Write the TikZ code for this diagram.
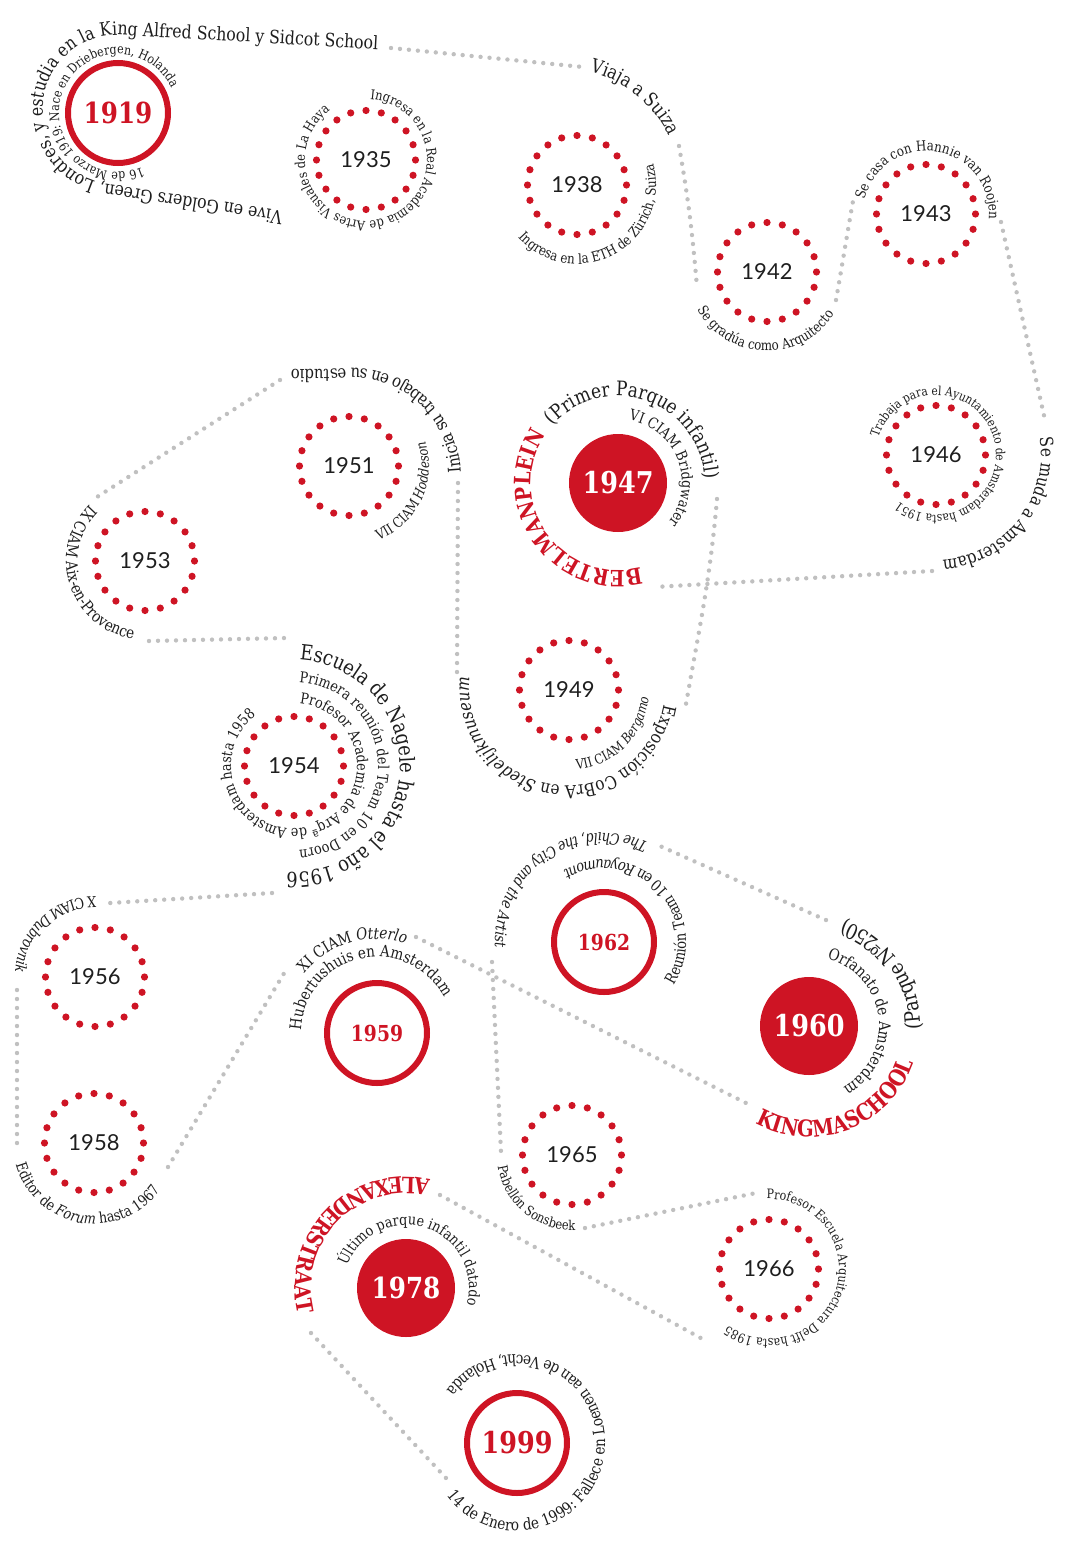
\documentclass[tikz,border=0pt]{standalone}
\usepackage{fontspec}
\setmainfont{DejaVu Serif}[FakeStretch=0.85]
\newfontfamily\yearfont{Lato}
\usetikzlibrary{decorations.text}

\definecolor{vanred}{RGB}{206,20,36}
\definecolor{trailgray}{RGB}{192,192,192}
\definecolor{yeargray}{RGB}{30,30,30}

\newcommand\fs[1]{\fontsize{#1}{#1}\selectfont}
% text on an arc: [deco options]{cx}{cy}{r}{from}{to}{text}
\newcommand\arctext[7][]{%
  \begin{scope}[transform canvas={shift={(#2,-#3)}}]
  \path[decorate,decoration={text along path,text align=center,text color=yeargray,#1,text={#7}}]
    (#5:#4pt) arc[start angle=#5,end angle=#6,radius=#4pt];
  \end{scope}}

\tikzset{
  trail/.style={draw=trailgray,line width=4.4pt,line cap=round,dash pattern=on 0pt off 9pt},
  thinyear/.style={font=\yearfont\fs{22},text=yeargray},
  ringyear/.style={circle,draw=vanred,line width=6pt,minimum size=100pt,inner sep=0pt,text=vanred,font=\bfseries\fs{22}},
  diskyear/.style={circle,fill=vanred,minimum size=98pt,inner sep=0pt,text=white,font=\bfseries\fs{30}}
}

\begin{document}
\begin{tikzpicture}[x=1pt,y=1pt]
	\useasboundingbox (0,0) rectangle (1080,-1545);

	% years
	\node[ringyear,font=\bfseries\fs{29}] (y1919) at (118,-113) {1919};
	\node[thinyear] (y1935) at (366,-160) {1935};
	\node[thinyear] (y1938) at (577,-185) {1938};
	\node[thinyear] (y1942) at (767,-272) {1942};
	\node[thinyear] (y1943) at (926,-214) {1943};
	\node[thinyear] (y1946) at (936,-455) {1946};
	\node[diskyear] (y1947) at (618,-483) {1947};
	\node[thinyear] (y1949) at (569,-690) {1949};
	\node[thinyear] (y1951) at (349,-466) {1951};
	\node[thinyear] (y1953) at (145,-561) {1953};
	\node[thinyear] (y1954) at (294,-766) {1954};
	\node[thinyear] (y1956) at (95,-977) {1956};
	\node[thinyear] (y1958) at (94,-1143) {1958};
	\node[ringyear] (y1959) at (377,-1033) {1959};
	\node[diskyear] (y1960) at (809,-1026) {1960};
	\node[ringyear] (y1962) at (604,-942) {1962};
	\node[thinyear] (y1965) at (572,-1155) {1965};
	\node[thinyear] (y1966) at (769,-1269) {1966};
	\node[diskyear,font=\bfseries\fs{29}] (y1978) at (406,-1288) {1978};
	\node[ringyear,font=\bfseries\fs{30}] (y1999) at (517,-1443) {1999};

	% dotted rings
	\foreach \c in {y1935,y1938,y1942,y1943,y1946,y1949,y1951,y1953,y1954,y1956,y1958,y1965,y1966}
		\foreach \a in {0,18,...,342}
			\fill[vanred] (\c.center) ++(\a:49.5pt) circle[radius=3.6pt];

	% trail ends
	\coordinate (schoolEnd) at (391,-48);
	\coordinate (suizaIn) at (583,-67);
	\coordinate (suizaOut) at (679,-146);
	\coordinate (gradIn) at (697,-287);
	\coordinate (gradOut) at (836,-300);
	\coordinate (casaIn) at (853,-201);
	\coordinate (casaOut) at (1001,-222);
	\coordinate (mudaIn) at (1045,-420);
	\coordinate (mudaOut) at (932,-571);
	\coordinate (bertIn) at (655,-587);
	\coordinate (bertOut) at (717,-499);
	\coordinate (cobraIn) at (686,-704);
	\coordinate (cobraOut) at (457,-672);
	\coordinate (iniciaIn) at (458,-481);
	\coordinate (iniciaOut) at (280,-380);
	\coordinate (aixIn) at (97,-497);
	\coordinate (aixOut) at (149,-641);
	\coordinate (naglIn) at (286,-638);
	\coordinate (naglOut) at (272,-893);
	\coordinate (dubIn) at (110,-903);
	\coordinate (dubOut) at (17,-990);
	\coordinate (forumIn) at (17,-1150);
	\coordinate (forumOut) at (168,-1167);
	\coordinate (otterIn) at (286,-970);
	\coordinate (otterOut) at (416,-937);
	\coordinate (kingIn) at (748,-1104);
	\coordinate (kingOut) at (826,-920);
	\coordinate (childIn) at (660,-846);
	\coordinate (childOut) at (492,-962);
	\coordinate (sonsIn) at (501,-1152);
	\coordinate (sonsOut) at (585,-1228);
	\coordinate (delftIn) at (756,-1193);
	\coordinate (delftOut) at (708,-1342);
	\coordinate (alexIn) at (440,-1195);
	\coordinate (alexOut) at (311,-1333);
	\coordinate (loenIn) at (446,-1478);

	% trail
	\draw[trail] (schoolEnd) -- (suizaIn);
	\draw[trail] (suizaOut) to[out=-80,in=95] (gradIn);
	\draw[trail] (gradOut) to[out=80,in=-100] (casaIn);
	\draw[trail] (casaOut) -- (mudaIn);
	\draw[trail] (mudaOut) -- (bertIn);
	\draw[trail] (bertOut) to[out=-95,in=80] (cobraIn);
	\draw[trail] (cobraOut) -- (iniciaIn);
	\draw[trail] (iniciaOut) -- (aixIn);
	\draw[trail] (aixOut) -- (naglIn);
	\draw[trail] (naglOut) -- (dubIn);
	\draw[trail] (dubOut) -- (forumIn);
	\draw[trail] (forumOut) -- (otterIn);
	\draw[trail] (otterOut) -- (kingIn);
	\draw[trail] (kingOut) -- (childIn);
	\draw[trail] (childOut) -- (sonsIn);
	\draw[trail] (sonsOut) -- (delftIn);
	\draw[trail] (alexIn) -- (delftOut);
	\draw[trail] (alexOut) -- (loenIn);

	% trail texts
	\begin{scope}[transform canvas={shift={(118,-110)}}]
	\path[decorate,decoration={text along path,text align=center,text color=yeargray,
		text={|\fs{18.5}|Vive en Golders Green, Londres, y estudia en la King Alfred School y Sidcot School}}]
		(175,-103) -- (-12,-74) arc[start angle=-99,end angle=-273,radius=75pt] -- (270,60);
	\end{scope}
	\arctext{560}{190}{122}{80}{22}{|\fs{19}|Viaja a Suiza}
	\arctext{767}{272}{79}{200}{336}{|\fs{14}|Se gradúa como Arquitecto}
	\arctext{926}{214}{63}{168}{-6}{|\fs{14}|Se casa con Hannie van Roojen}
	\arctext{936}{455}{105}{15}{-92}{|\fs{18}|Se muda a Amsterdam}
	\arctext[text color=vanred]{618}{483}{87}{283}{148}{|\bfseries\fs{22.5}|BERTELMANPLEIN}
	\arctext{618}{483}{87}{147}{-6}{|\fs{20}|(Primer Parque infantil)}
	\arctext{567}{688}{98}{-3}{-193}{|\fs{18}|Exposición CoBrA en |\fs{18}\itshape|Stedelijkmuseum}
	\begin{scope}[transform canvas={shift={(351,-478)}}]
	\path[decorate,decoration={text along path,text align=center,text color=yeargray,
		text={|\fs{17.5}|Inicia su trabajo en su estudio}}]
		(-5:110pt) arc[start angle=-5,end angle=100,radius=110pt] -- (-75,109);
	\end{scope}
	\arctext{145}{561}{79}{127}{269}{|\fs{16}|IX CIAM Aix-en-Provence}
	\arctext{294}{766}{106}{91}{-98}{|\fs{21}|Escuela de Nagele hasta el año 1956}
	\arctext{95}{977}{80}{80}{186}{|\fs{15}|X CIAM |\fs{15}\itshape|Dubrovnik}
	\arctext{94}{1143}{81}{186}{334}{|\fs{15}|Editor de |\fs{15}\itshape|Forum |\fs{15}\upshape|hasta 1967}
	\arctext{377}{1033}{94}{144}{69}{|\fs{16}|XI CIAM |\fs{16}\itshape|Otterlo}
	\arctext[text color=vanred]{809}{1026}{111}{236}{346}{|\bfseries\fs{23}|KINGMASCHOOL}
	\arctext{809}{1026}{111}{350}{440}{|\fs{21}|(Parque Nº250)}
	\arctext{604}{942}{109}{61}{188}{|\fs{15.5}\itshape|The Child, the City and the Artist}
	\arctext{572}{1155}{75}{183}{278}{|\fs{13.5}|Pabellón Sonsbeek}
	\arctext{769}{1269}{70}{97}{-131}{|\fs{13}|Profesor Escuela Arquitectura Delft hasta 1985}
	\arctext[text color=vanred]{406}{1288}{111}{75}{196}{|\bfseries\fs{22.5}|ALEXANDERSTRAAT}
	\arctext{517}{1443}{88}{200}{520}{|\fs{16}|14 de Enero de 1999: Fallece en Loenen aan de Vecht, Holanda}

	% inner texts
	\arctext{118}{113}{59}{300}{19}{|\fs{13}|16 de Marzo 1919: Nace en Driebergen, Holanda}
	\arctext{366}{160}{61}{92}{-240}{|\fs{13.5}|Ingresa en la Real Academia de Artes Visuales de La Haya}
	\arctext{577}{185}{79}{219}{378}{|\fs{14}|Ingresa en la ETH de Zürich, Suiza}
	\arctext{936}{455}{60}{170}{-135}{|\fs{12.5}|Trabaja para el Ayuntamiento de Amsterdam hasta 1951}
	\arctext{618}{483}{64}{89}{-47}{|\fs{15}|VI CIAM Bridgwater}
	\arctext{349}{466}{80}{286}{384}{|\fs{14}|VII CIAM |\fs{14}\itshape|Hoddeson}
	\arctext{569}{690}{80}{274}{356}{|\fs{13.5}|VII CIAM |\fs{13.5}\itshape|Bergamo}
	\arctext{294}{766}{84}{100}{-100}{|\fs{15}|Primera reunión del Team 10 en Doorn}
	\arctext{294}{766}{63}{98}{-246}{|\fs{15}|Profesor Academia de Arqª de Amsterdam hasta 1958}
	\arctext{377}{1033}{76}{186}{20}{|\fs{16}|Hubertushuis en Amsterdam}
	\arctext{604}{942}{82}{320}{488}{|\fs{15.5}|Reunión Team 10 en |\fs{15.5}\itshape|Royaumont}
	\arctext{809}{1026}{70}{86}{-72}{|\fs{16}|Orfanato de Amsterdam}
	\arctext{406}{1288}{63}{168}{-24}{|\fs{15}|Último parque infantil datado}

\end{tikzpicture}
\end{document}
